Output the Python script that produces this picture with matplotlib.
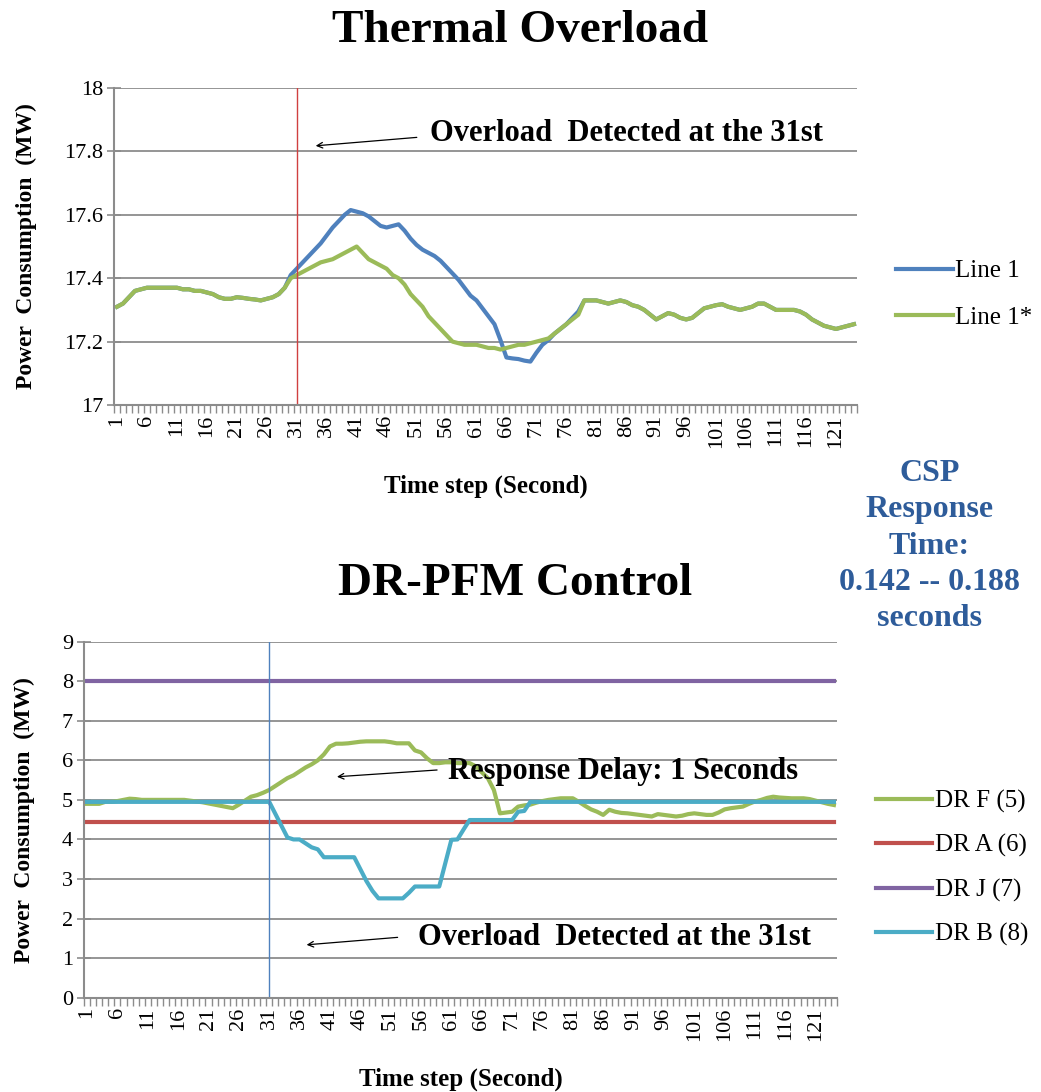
import numpy as np
import matplotlib
matplotlib.use("Agg")
import matplotlib.pyplot as plt

plt.rcParams['font.family'] = ['Liberation Serif', 'DejaVu Serif']

# time steps 1..124
steps = list(range(1, 125))

# Thermal Overload chart (MW)
line1_star = [
    17.31, 17.32, 17.34, 17.36, 17.365, 17.37, 17.37, 17.37, 17.37, 17.37,
    17.37, 17.365, 17.365, 17.36, 17.36, 17.355, 17.35, 17.34, 17.335, 17.335,
    17.34, 17.338, 17.335, 17.333, 17.33, 17.335, 17.34, 17.35, 17.37, 17.40,
    17.41, 17.42, 17.43, 17.44, 17.45, 17.455, 17.46, 17.47, 17.48, 17.49,
    17.50, 17.48, 17.46, 17.45, 17.44, 17.43, 17.41, 17.40, 17.38, 17.35,
    17.33, 17.31, 17.28, 17.26, 17.24, 17.22, 17.20, 17.195, 17.19, 17.19,
    17.19, 17.185, 17.18, 17.18, 17.175, 17.18, 17.185, 17.19, 17.19, 17.195,
    17.20, 17.205, 17.21, 17.225, 17.24, 17.255, 17.27, 17.285, 17.33, 17.33,
    17.33, 17.325, 17.32, 17.325, 17.33, 17.325, 17.315, 17.31, 17.30, 17.285,
    17.27, 17.28, 17.29, 17.285, 17.275, 17.27, 17.275, 17.29, 17.305, 17.31,
    17.315, 17.318, 17.31, 17.305, 17.30, 17.305, 17.31, 17.32, 17.32, 17.31,
    17.30, 17.30, 17.30, 17.30, 17.295, 17.285, 17.27, 17.26, 17.25, 17.245,
    17.24, 17.245, 17.25, 17.255,
]
line1 = line1_star[:29] + [
    17.41, 17.43, 17.45, 17.47, 17.49, 17.51, 17.535, 17.56, 17.58, 17.60,
    17.615, 17.61, 17.605, 17.595, 17.58, 17.565, 17.56, 17.565, 17.57, 17.55,
    17.525, 17.505, 17.49, 17.48, 17.47, 17.455, 17.435, 17.415, 17.395, 17.37,
    17.345, 17.33, 17.305, 17.28, 17.255, 17.205, 17.15, 17.147, 17.145, 17.14,
    17.137, 17.165, 17.19, 17.205, 17.225, 17.24, 17.255, 17.275, 17.295, 17.33,
] + line1_star[79:]

# DR-PFM Control chart (MW)
dr_f = [
    4.90, 4.90, 4.90, 4.95, 4.95, 4.97, 5.00, 5.03, 5.02, 5.00,
    5.00, 5.00, 5.00, 5.00, 5.00, 5.00, 5.00, 4.98, 4.96, 4.94,
    4.91, 4.88, 4.85, 4.82, 4.79, 4.88, 4.98, 5.08, 5.12, 5.18,
    5.25, 5.35, 5.45, 5.55, 5.62, 5.72, 5.82, 5.90, 6.00, 6.15,
    6.35, 6.42, 6.42, 6.43, 6.45, 6.47, 6.48, 6.48, 6.48, 6.48,
    6.46, 6.43, 6.43, 6.43, 6.25, 6.20, 6.05, 5.93, 5.93, 5.95,
    5.95, 5.93, 5.93, 5.93, 5.85, 5.70, 5.55, 5.25, 4.66, 4.68,
    4.70, 4.83, 4.86, 4.88, 4.93, 4.97, 5.00, 5.02, 5.04, 5.04,
    5.04, 4.95, 4.85, 4.76, 4.70, 4.62, 4.75, 4.70, 4.67, 4.66,
    4.64, 4.62, 4.60, 4.58, 4.64, 4.62, 4.60, 4.58, 4.60, 4.64,
    4.66, 4.64, 4.62, 4.62, 4.68, 4.76, 4.79, 4.81, 4.83, 4.90,
    4.96, 5.00, 5.05, 5.08, 5.06, 5.05, 5.04, 5.04, 5.04, 5.02,
    4.98, 4.94, 4.90, 4.87,
]
dr_a = [4.45] * 124
dr_j = [8.0] * 124
dr_b = [4.95] * 31 + [
    4.65, 4.35, 4.05, 4.00, 4.00, 3.90, 3.80, 3.75, 3.55, 3.55,
    3.55, 3.55, 3.55, 3.55, 3.25, 2.95, 2.70, 2.51, 2.51, 2.51,
    2.51, 2.51, 2.65, 2.81, 2.81, 2.81, 2.81, 2.81, 3.40, 3.99,
    4.00, 4.25, 4.49, 4.49, 4.49, 4.49, 4.49, 4.49, 4.49, 4.49,
    4.70, 4.72, 4.95,
] + [4.95] * 50

detect_step = 31
tick_labels = list(range(1, 122, 5))

GRID = '#8c8c8c'


def style_axes(ax, yticks, ylabels):
    ax.set_xlim(0.5, len(steps) + 0.5)
    ax.set_yticks(yticks)
    ax.set_yticklabels(ylabels, fontsize=16)
    ax.set_xticks(tick_labels)
    ax.set_xticklabels([str(t) for t in tick_labels], rotation=90, fontsize=16)
    ax.set_xticks(np.arange(0.5, len(steps) + 1, 1), minor=True)
    ax.tick_params(axis='x', which='major', length=0, pad=7)
    ax.tick_params(axis='x', which='minor', length=6, color=GRID, width=1)
    ax.tick_params(axis='y', length=10, direction='inout', color=GRID,
                   width=1.2, pad=3)
    ax.grid(axis='y', color=GRID, lw=1.3)
    ax.set_axisbelow(True)
    for s in ['top', 'right']:
        ax.spines[s].set_visible(False)
    for s in ['left', 'bottom']:
        ax.spines[s].set_color(GRID)
        ax.spines[s].set_linewidth(1.5)
    ax.set_ylabel('Power  Consumption  (MW)', fontsize=17, fontweight='bold',
                  labelpad=19)
    ax.set_xlabel('Time step (Second)', fontsize=18, fontweight='bold',
                  labelpad=19)


fig = plt.figure(figsize=(10.41, 10.92), dpi=100)

# ---- Thermal Overload ----
ax1 = fig.add_axes([0.1095, 0.6291, 0.7137, 0.2903])
ax1.plot(steps, line1, color='#4F81BD', lw=3, label='Line 1')
ax1.plot(steps, line1_star, color='#9BBB59', lw=3, label='Line 1*')
ax1.axvline(detect_step, color='#D04040', lw=1)
ax1.set_ylim(17, 18)
style_axes(ax1, [17, 17.2, 17.4, 17.6, 17.8, 18],
           ['17', '17.2', '17.4', '17.6', '17.8', '18'])
ax1.annotate('', xy=(33.7, 17.817), xytext=(51.5, 17.845),
             arrowprops=dict(arrowstyle='->', color='black', lw=0.9))
ax1.text(53.2, 17.858, 'Overload  Detected at the 31st', fontsize=22,
         fontweight='bold', va='center', ha='left')
fig.text(0.5, 0.972, 'Thermal Overload', fontsize=34, fontweight='bold',
         ha='center', va='center')
ax1.legend(loc='upper left', bbox_to_anchor=(0.861, 0.762),
           bbox_transform=fig.transFigure, frameon=False, fontsize=18,
           handlelength=2.25, handletextpad=0.1, labelspacing=0.95,
           borderpad=0, borderaxespad=0)

# ---- DR-PFM Control ----
ax2 = fig.add_axes([0.0807, 0.0864, 0.7233, 0.326])
ax2.plot(steps, dr_f, color='#9BBB59', lw=3, label='DR F (5)')
ax2.plot(steps, dr_a, color='#C0504D', lw=3, label='DR A (6)')
ax2.plot(steps, dr_j, color='#8064A2', lw=3, label='DR J (7)')
ax2.plot(steps, dr_b, color='#4BACC6', lw=3, label='DR B (8)')
ax2.axvline(detect_step, color='#4F81BD', lw=1)
ax2.set_ylim(0, 9)
style_axes(ax2, list(range(10)), [str(v) for v in range(10)])
ax2.annotate('', xy=(41.7, 5.58), xytext=(59.1, 5.76),
             arrowprops=dict(arrowstyle='->', color='black', lw=0.9))
ax2.text(60.5, 5.71, 'Response Delay: 1 Seconds', fontsize=22,
         fontweight='bold', va='center', ha='left')
ax2.annotate('', xy=(36.7, 1.33), xytext=(52.6, 1.53),
             arrowprops=dict(arrowstyle='->', color='black', lw=0.9))
ax2.text(55.5, 1.51, 'Overload  Detected at the 31st', fontsize=22,
         fontweight='bold', va='center', ha='left')
fig.text(0.495, 0.465, 'DR-PFM Control', fontsize=34, fontweight='bold',
         ha='center', va='center')
ax2.legend(loc='upper left', bbox_to_anchor=(0.8415, 0.2765),
           bbox_transform=fig.transFigure, frameon=False, fontsize=18,
           handlelength=2.25, handletextpad=0.1, labelspacing=0.85,
           borderpad=0, borderaxespad=0)

fig.text(0.893, 0.5, 'CSP\nResponse\nTime:\n0.142 -- 0.188\nseconds',
         color='#2E5C9A', fontsize=23, fontweight='bold', ha='center',
         va='center', linespacing=1.34)

fig.savefig('out.png', dpi=100)
